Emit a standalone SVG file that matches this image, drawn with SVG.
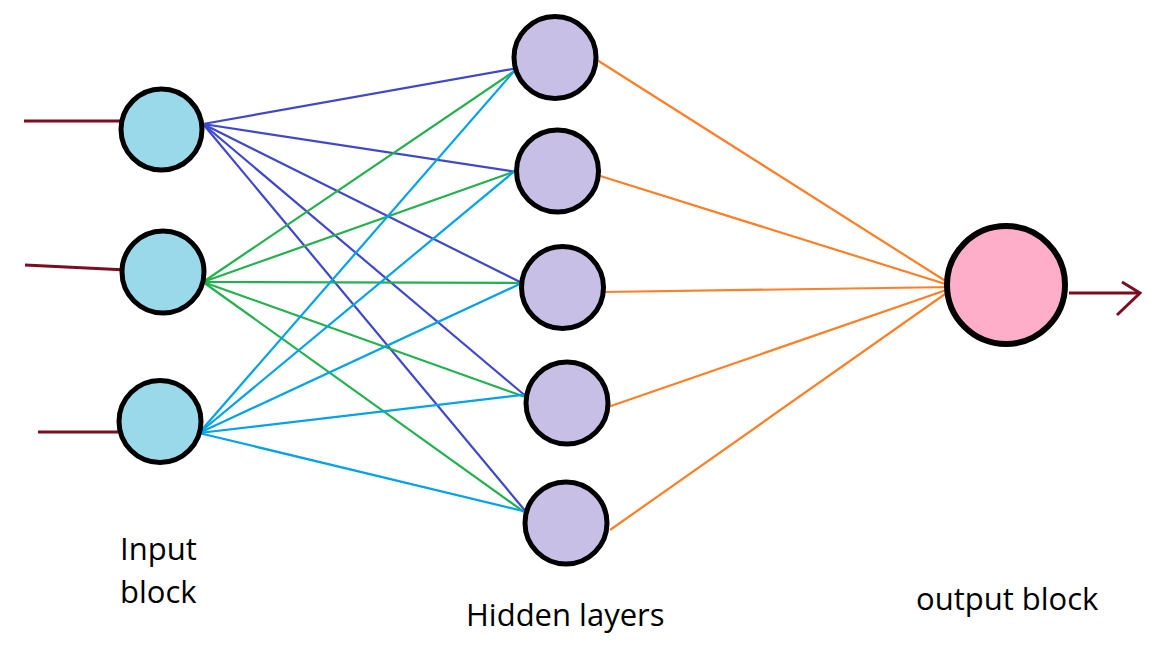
<svg xmlns="http://www.w3.org/2000/svg" width="1152" height="648" viewBox="0 0 1152 648">
<style>
.in{fill:#99d9ea;stroke:#000;stroke-width:5}
.hid{fill:#c8bfe7;stroke:#000;stroke-width:5}
.out{fill:#ffaec9;stroke:#000;stroke-width:6}
.wire{fill:none;stroke:#7b0c22;stroke-width:3}
.b{stroke:#3f48cc;stroke-width:2.2}
.g{stroke:#22b14c;stroke-width:2.2}
.c{stroke:#00a2e8;stroke-width:2.2}
.o{stroke:#ff7f27;stroke-width:2.2}
.lbl{font-family:"Open Sans","Liberation Sans",sans-serif;font-size:31px;fill:#000}
</style>
<rect width="1152" height="648" fill="#fff"/>
<g id="connectors">
<line class="b" x1="203" y1="124" x2="518" y2="68"/>
<line class="b" x1="203" y1="124" x2="517" y2="172"/>
<line class="b" x1="203" y1="124" x2="522" y2="283"/>
<line class="b" x1="203" y1="124" x2="528" y2="398"/>
<line class="b" x1="203" y1="124" x2="527" y2="513"/>
<line class="g" x1="203" y1="282" x2="516" y2="70"/>
<line class="g" x1="203" y1="282" x2="516" y2="171"/>
<line class="g" x1="203" y1="282" x2="523" y2="283"/>
<line class="g" x1="203" y1="282" x2="528" y2="398"/>
<line class="g" x1="203" y1="282" x2="527" y2="514"/>
<line class="c" x1="199" y1="433" x2="516" y2="69"/>
<line class="c" x1="199" y1="433" x2="516" y2="170"/>
<line class="c" x1="199" y1="433" x2="522" y2="283"/>
<line class="c" x1="199" y1="433" x2="530" y2="394"/>
<line class="c" x1="199" y1="433" x2="527" y2="512"/>
<line class="o" x1="597" y1="60" x2="955" y2="287"/>
<line class="o" x1="597" y1="175" x2="955" y2="287"/>
<line class="o" x1="603" y1="292" x2="955" y2="287"/>
<line class="o" x1="608" y1="407" x2="955" y2="287"/>
<line class="o" x1="610" y1="530" x2="955" y2="287"/>
<polyline class="wire" points="24,121 136,121"/>
<polyline class="wire" points="25,265 127,270"/>
<polyline class="wire" points="38,432 127,432"/>
<polyline class="wire" points="1069,293 1138,293"/>
<polyline class="wire" points="1122,282 1140,293 1117,315"/>
</g>
<g id="input1"><circle class="in" cx="161.5" cy="129.5" r="40.5"/></g>
<g id="input2"><circle class="in" cx="163" cy="272" r="41"/></g>
<g id="input3"><circle class="in" cx="160" cy="421.5" r="41"/></g>
<g id="hidden1"><circle class="hid" cx="555" cy="57.5" r="41"/></g>
<g id="hidden2"><circle class="hid" cx="557.5" cy="171" r="41"/></g>
<g id="hidden3"><circle class="hid" cx="562.5" cy="287.5" r="41"/></g>
<g id="hidden4"><circle class="hid" cx="567" cy="403" r="41"/></g>
<g id="hidden5"><circle class="hid" cx="566" cy="523" r="41"/></g>
<g id="output"><circle class="out" cx="1006" cy="285" r="59"/></g>
<g id="labels">
<text class="lbl" x="120" y="560">Input</text>
<text class="lbl" x="120" y="603">block</text>
<text class="lbl" x="466" y="626">Hidden layers</text>
<text class="lbl" x="916" y="610">output block</text>
</g>
</svg>
